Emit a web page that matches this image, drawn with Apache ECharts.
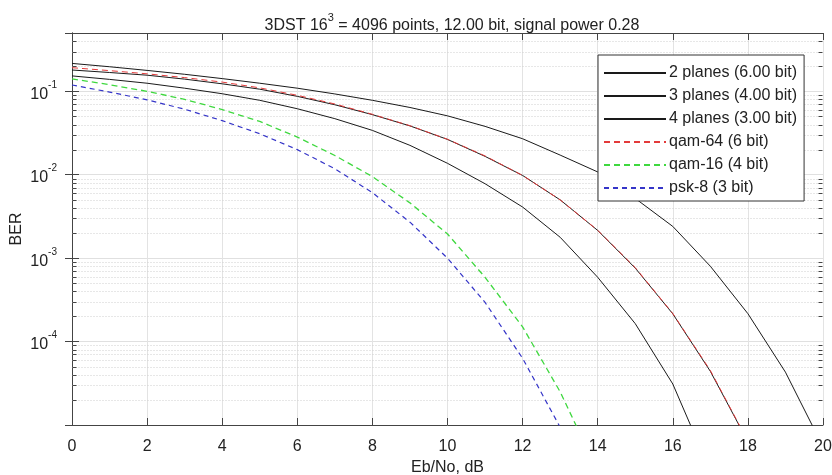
<!DOCTYPE html>
<html>
<head>
<meta charset="utf-8">
<script src="https://cdn.jsdelivr.net/npm/echarts@6/dist/echarts.min.js"></script>
<style>html,body{margin:0;padding:0;background:#fff;}#c{width:832px;height:475px;}</style>
</head>
<body>
<div id="c"></div>
<script>
// ---- data ----
const ebno = [0,1,2,3,4,5,6,7,8,9,10,11,12,13,14,15,16,17,18,19,20];
const planes2 = [0.216,0.197,0.178,0.160,0.142,0.125,0.109,0.093,0.078,0.064,0.0508,0.038,0.0270,0.0172,0.0108,0.0052,0.0024,8.0e-4,2.16e-4,4.3e-5,5.5e-6];
const planes3 = [0.180,0.168,0.156,0.140,0.123,0.106,0.087,0.069,0.0525,0.0385,0.0265,0.0166,0.0098,0.0050,0.00215,7.6e-4,2.15e-4,4.4e-5,6.3e-6];
const planes4 = [0.153,0.139,0.125,0.109,0.0935,0.078,0.0618,0.047,0.034,0.0225,0.0137,0.0078,0.0041,0.00178,5.9e-4,1.64e-4,3.1e-5,2.8e-6];
const qam64 = [0.192,0.177,0.162,0.146,0.129,0.110,0.0895,0.0705,0.0530,0.0387,0.0266,0.0168,0.0098,0.0050,0.00216,7.7e-4,2.17e-4,4.5e-5,6.4e-6];
const qam16 = [0.141,0.120,0.100,0.080,0.0605,0.0435,0.0283,0.0170,0.0095,0.0046,0.00195,5.9e-4,1.5e-4,2.5e-5,2.8e-6];
const psk8 = [0.119,0.098,0.079,0.061,0.0445,0.031,0.0200,0.0118,0.0061,0.0027,0.00100,2.95e-4,6.3e-5,9.4e-6,9.0e-7];
const seriesNames = ['2 planes (6.00 bit)','3 planes (4.00 bit)','4 planes (3.00 bit)','qam-64 (6 bit)','qam-16 (4 bit)','psk-8 (3 bit)'];
const xTicks = [0,2,4,6,8,10,12,14,16,18,20];
const yMin = 1e-5, yMax = 0.5;
const minorMultipliers = [2,3,4,5,6,7,8,9];
const decades = [1e-5,1e-4,1e-3,1e-2,1e-1];

function pairs(arr){ return arr.map((v,i)=>[ebno[i], v]); }
const minorVals = [];
decades.forEach(d => minorMultipliers.forEach(m => { const v = d*m; if (v < yMax*0.999) minorVals.push([0, v]); }));

const FONT = 'Liberation Sans, Arial, sans-serif';
const chart = echarts.init(document.getElementById('c'), null, {renderer:'canvas'});
const txt = '#222';
const rich = {
  b:{fontSize:16, color:txt, fontFamily:FONT, fontWeight:'normal', lineHeight:22, verticalAlign:'bottom'},
  s:{fontSize:11, color:txt, fontFamily:FONT, fontWeight:'normal', lineHeight:12, verticalAlign:'top'},
  s2:{fontSize:10, color:txt, fontFamily:FONT, fontWeight:'normal', lineHeight:11, verticalAlign:'top'}
};
function lineSeries(name, data, color, dash, w){
  return {
    name, type:'line', data:pairs(data), symbol:'none', showSymbol:false,
    lineStyle:{color, width:w||1, type:dash||'solid'}, itemStyle:{color},
    xAxisIndex:0, yAxisIndex:0, z:3, animation:false, clip:true
  };
}
const option = {
  animation:false,
  backgroundColor:'#fff',
  textStyle:{fontFamily:FONT},
  title:{
    text:'{b|3DST 16}{s|3}{b| = 4096 points, 12.00 bit, signal power 0.28}',
    left:447, top:7, textAlign:'center',
    textStyle:{rich, fontWeight:'normal', fontFamily:FONT}
  },
  grid:{left:72, right:9, top:33, bottom:50, containLabel:false, outerBoundsMode:'none'},
  legend:{
    orient:'vertical', left:598, top:55,
    padding:[10,7,5,5], itemGap:7, itemWidth:62, itemHeight:14,
    backgroundColor:'#fff', borderColor:'#333', borderWidth:1,
    itemStyle:{opacity:0},
    textStyle:{fontSize:16, color:txt, fontFamily:FONT, padding:[0,0,0,-2]},
    data:seriesNames
  },
  xAxis:[{
    type:'value', min:0, max:20, interval:2, position:'bottom',
    name:'Eb/No, dB', nameLocation:'middle', nameGap:34,
    nameTextStyle:{fontSize:16, color:txt, fontFamily:FONT},
    axisLine:{show:true, lineStyle:{color:'#444', width:1}},
    axisTick:{show:true, inside:true, length:7, lineStyle:{color:'#444'}},
    axisLabel:{fontSize:16, color:txt, margin:14, fontFamily:FONT, showMinLabel:true, showMaxLabel:true},
    splitLine:{show:true, lineStyle:{color:'#e3e3e3', width:1}}
  },{
    type:'value', min:0, max:20, interval:2, position:'top',
    axisLine:{show:true, lineStyle:{color:'#444', width:1}},
    axisTick:{show:true, inside:true, length:7, lineStyle:{color:'#444'}},
    axisLabel:{show:false}, splitLine:{show:false}
  }],
  yAxis:[{
    type:'log', logBase:10, min:yMin, max:yMax, position:'left',
    name:'BER', nameLocation:'middle', nameGap:47, nameMoveOverlap:false,
    nameTextStyle:{fontSize:16, color:txt, fontFamily:FONT},
    axisLine:{show:true, lineStyle:{color:'#444', width:1}},
    axisTick:{show:true, inside:true, length:7, lineStyle:{color:'#444'}},
    axisLabel:{margin:15, rich, formatter:function(v){
      const l = Math.log10(v); const e = Math.round(l);
      if (Math.abs(l-e) > 1e-6 || e === -5) return '';
      return '{b|10}{s2|' + e + '}';
    }},
    splitLine:{show:true, lineStyle:{color:'#e0e0e0', width:1}}
  },{
    type:'log', logBase:10, min:yMin, max:yMax, position:'right',
    axisLine:{show:true, lineStyle:{color:'#444', width:1}},
    axisTick:{show:true, inside:true, length:7, lineStyle:{color:'#444'}},
    axisLabel:{show:false}, splitLine:{show:false}
  }],
  series:[
    {
      type:'custom', name:'minor', silent:true, z:1, xAxisIndex:0, yAxisIndex:0,
      data:minorVals, encode:{x:0, y:1},
      renderItem:function(params, api){
        const y = api.value(1);
        const p0 = api.coord([0, y]); const p1 = api.coord([20, y]);
        const yy = Math.round(p0[1]) + 0.5;
        const x0 = Math.round(p0[0]) + 0.5, x1 = Math.round(p1[0]) - 0.5;
        return {type:'group', children:[
          {type:'line', shape:{x1:x0, y1:yy, x2:x1, y2:yy}, style:{stroke:'#cfcfcf', lineWidth:1, lineDash:[1,2]}},
          {type:'line', shape:{x1:x0, y1:yy, x2:x0+4, y2:yy}, style:{stroke:'#444', lineWidth:1}},
          {type:'line', shape:{x1:x1-4, y1:yy, x2:x1, y2:yy}, style:{stroke:'#444', lineWidth:1}}
        ]};
      }
    },
    lineSeries(seriesNames[0], planes2, '#1a1a1a'),
    lineSeries(seriesNames[1], planes3, '#1a1a1a'),
    lineSeries(seriesNames[2], planes4, '#1a1a1a'),
    lineSeries(seriesNames[3], qam64, '#e33a3a', [6,4]),
    lineSeries(seriesNames[4], qam16, '#3fd83f', [6,4], 1.3),
    lineSeries(seriesNames[5], psk8, '#3535c8', [5,4], 1.2)
  ]
};
chart.setOption(option);
</script>
</body>
</html>
